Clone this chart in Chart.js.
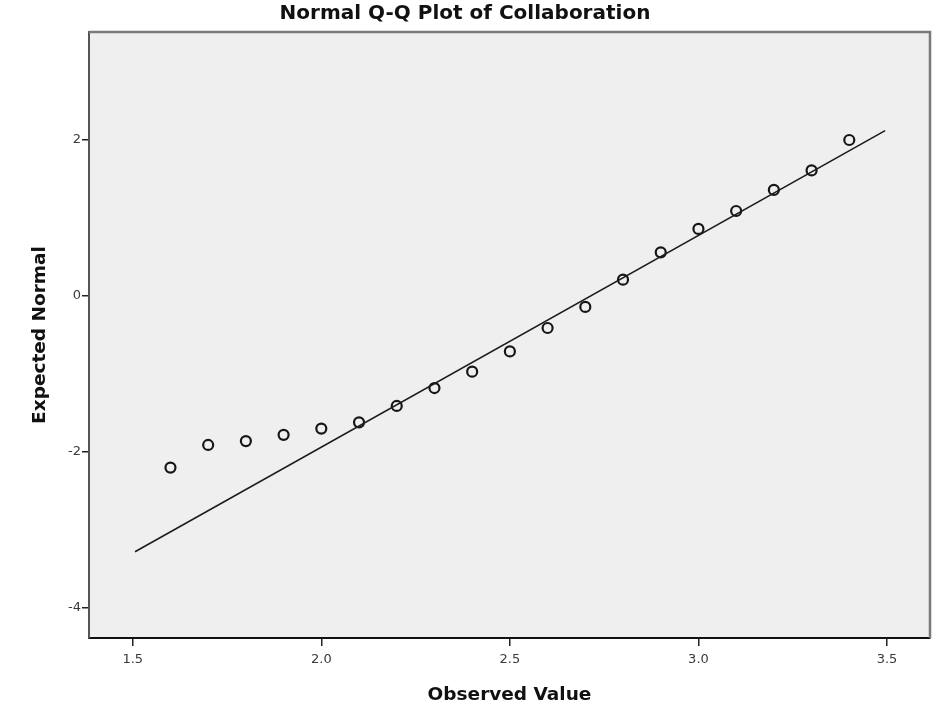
<!DOCTYPE html>
<html>
<head>
<meta charset="utf-8">
<title>Normal Q-Q Plot of Collaboration</title>
<script src="https://cdn.jsdelivr.net/npm/chart.js@4.4.1/dist/chart.umd.min.js"></script>
<style>
    html, body { margin: 0; padding: 0; background: #fff; }
    #wrap { width: 948px; height: 712px; }
</style>
</head>
<body>
<div id="wrap"><canvas id="qqChart" width="948" height="712"></canvas></div>
<script>
const observedValues = [1.6, 1.7, 1.8, 1.9, 2.0, 2.1, 2.2, 2.3, 2.4, 2.5,
                        2.6, 2.7, 2.8, 2.9, 3.0, 3.1, 3.2, 3.3, 3.4];
const expectedNormal = [-2.20, -1.91, -1.86, -1.78, -1.70, -1.62, -1.41, -1.18, -0.97, -0.71,
                        -0.41, -0.14, 0.21, 0.56, 0.86, 1.09, 1.36, 1.61, 2.00];

// Reference line end points
const refLineX = [1.506, 3.495];
const refLineY = [-3.28, 2.12];

// Tick labels
const xTicks = [1.5, 2.0, 2.5, 3.0, 3.5];
const yTicks = [-4, -2, 0, 2];

const pointData = observedValues.map((x, i) => ({ x: x, y: expectedNormal[i] }));
const lineData = refLineX.map((x, i) => ({ x: x, y: refLineY[i] }));

// Grey plot background plus the grey top / right frame lines
const plotFrame = {
    id: 'plotFrame',
    beforeDraw(chart) {
        const { ctx, chartArea: a } = chart;
        ctx.save();
        ctx.fillStyle = '#efefef';
        ctx.fillRect(a.left, a.top, a.right - a.left, a.bottom - a.top);
        ctx.restore();
    },
    afterDraw(chart) {
        const { ctx, chartArea: a } = chart;
        ctx.save();
        ctx.strokeStyle = '#7a7a7a';
        ctx.lineWidth = 2.5;
        ctx.beginPath();
        ctx.moveTo(a.left, a.top);
        ctx.lineTo(a.right, a.top);
        ctx.lineTo(a.right, a.bottom);
        ctx.stroke();
        ctx.restore();
    }
};

const tickFont = { family: 'DejaVu Sans', size: 13 };
const titleFont = { family: 'DejaVu Sans', size: 18.5, weight: 'bold' };

const ctx = document.getElementById('qqChart').getContext('2d');
new Chart(ctx, {
    type: 'scatter',
    data: {
        datasets: [{
            type: 'line',
            data: lineData,
            showLine: true,
            borderColor: '#1c1c1c',
            borderWidth: 1.6,
            pointRadius: 0,
            fill: false
        }, {
            data: pointData,
            pointStyle: 'circle',
            pointRadius: 5,
            pointBorderWidth: 2.2,
            borderColor: '#161616',
            backgroundColor: 'rgba(0,0,0,0)'
        }]
    },
    options: {
        responsive: false,
        animation: false,
        events: [],
        layout: { padding: { left: 0, right: 18, top: 0, bottom: 0 } },
        plugins: {
            legend: { display: false },
            tooltip: { enabled: false },
            title: {
                display: true,
                text: 'Normal Q-Q Plot of Collaboration',
                color: '#111',
                font: { family: 'DejaVu Sans', size: 20, weight: 'bold' },
                padding: { top: 2, bottom: 6 }
            }
        },
        scales: {
            x: {
                type: 'linear',
                min: 1.384,
                max: 3.614,
                afterBuildTicks: (scale) => { scale.ticks = xTicks.map(v => ({ value: v })); },
                afterFit: (scale) => { scale.height = 74; },
                ticks: {
                    color: '#3a3a3a',
                    font: tickFont,
                    padding: 6,
                    maxRotation: 0,
                    callback: (v) => Number(v).toFixed(1)
                },
                grid: { drawOnChartArea: false, drawTicks: true, tickLength: 8, color: '#222', lineWidth: 1.5 },
                border: { display: true, color: '#111', width: 2 },
                title: {
                    display: true,
                    text: 'Observed Value',
                    color: '#111',
                    font: titleFont,
                    padding: { top: 0, bottom: 6 }
                }
            },
            y: {
                type: 'linear',
                min: -4.385,
                max: 3.385,
                afterBuildTicks: (scale) => { scale.ticks = yTicks.map(v => ({ value: v })); },
                afterFit: (scale) => { scale.width = 89; },
                ticks: {
                    color: '#3a3a3a',
                    font: tickFont,
                    padding: 1,
                    callback: (v) => String(v)
                },
                grid: { drawOnChartArea: false, drawTicks: true, tickLength: 7, color: '#222', lineWidth: 1.5 },
                border: { display: true, color: '#555', width: 2 },
                title: {
                    display: true,
                    text: 'Expected Normal',
                    color: '#111',
                    font: titleFont,
                    padding: { top: 29, bottom: 0 }
                }
            }
        }
    },
    plugins: [plotFrame]
});
</script>
</body>
</html>
